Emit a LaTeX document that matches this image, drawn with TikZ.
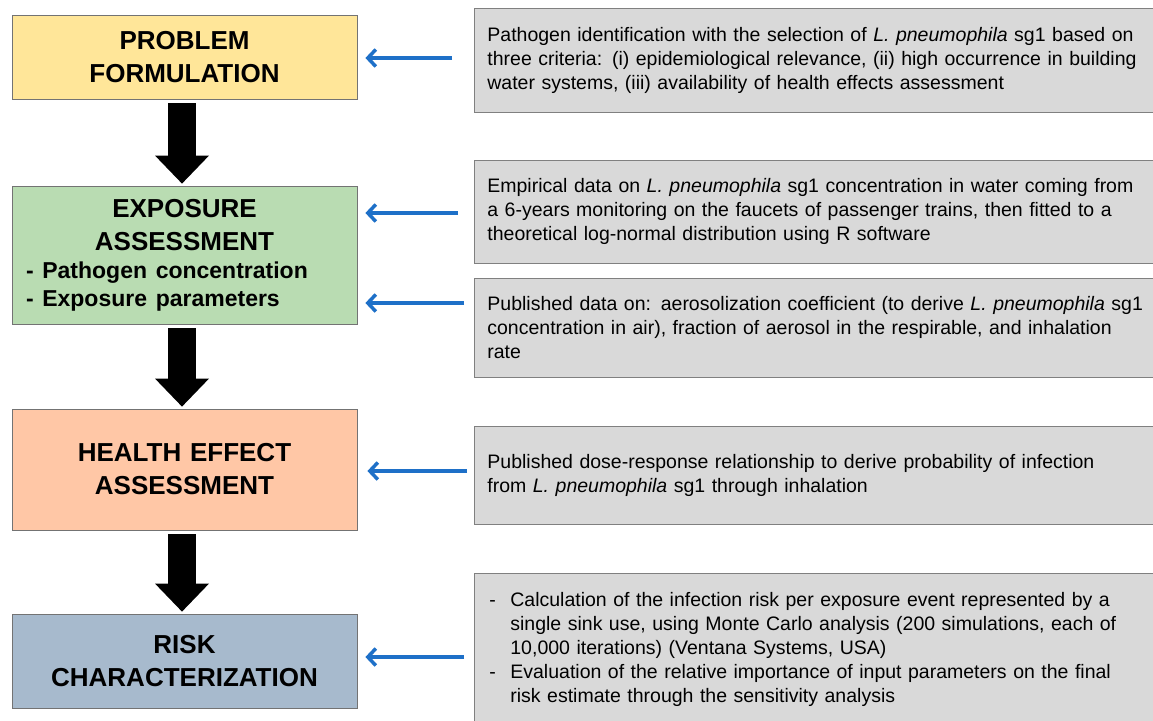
\documentclass[tikz,border=0pt]{standalone}
\usepackage{fontspec}
\setmainfont{Liberation Sans}
\usetikzlibrary{arrows.meta}

\definecolor{cYel}{HTML}{FFE699}
\definecolor{cGrn}{HTML}{B9DCB2}
\definecolor{cOrg}{HTML}{FFC7A6}
\definecolor{cBlg}{HTML}{A7BACD}
\definecolor{cGry}{HTML}{D9D9D9}
\definecolor{cBlu}{HTML}{1E70C8}

\newcommand{\jl}[1]{\makebox[\hsize][s]{#1}}
\newcommand{\Lp}{\textit{L. pneumophila}}
\newcommand{\bl}{\makebox[23pt][l]{\hspace*{2pt}-}}
\newcommand{\cl}{\hspace*{23pt}}

\tikzstyle{bS}=[draw=gray!90!black,line width=0.8pt,text width=331pt,inner xsep=7pt,inner ysep=0pt,align=center,font=\fontsize{26}{33}\selectfont\bfseries]
\tikzstyle{dS}=[draw=gray,line width=0.8pt,fill=cGry,anchor=west,text width=663pt,inner xsep=13pt,inner ysep=0pt,align=left,font=\fontsize{19.5}{24}\selectfont]
\tikzstyle{fS}=[line width=28pt,-{Triangle[length=28pt,width=54pt,line width=0pt]},shorten <=4pt,shorten >=2pt]
\tikzstyle{aS}=[line width=3.5pt,draw=cBlu,-{Straight Barb[length=8pt,width=17pt]},shorten >=8pt]

\begin{document}
\begin{tikzpicture}[x=1pt,y=-1pt]
    \useasboundingbox (0,0) rectangle (1153,720);

    \draw (184.5,57) node[bS,fill=cYel,minimum height=84pt] (pf) {PROBLEM\\FORMULATION};
    \draw (184.5,255) node[bS,fill=cGrn,minimum height=138pt,align=left] (ea) {\makebox[\hsize]{EXPOSURE}\\\makebox[\hsize]{ASSESSMENT}\par
        {\fontsize{23}{28}\selectfont\hspace*{7pt}- Pathogen concentration\\\hspace*{7pt}- Exposure parameters\par}};
    \draw (184.5,469.5) node[bS,fill=cOrg,minimum height=121pt] (hea) {HEALTH EFFECT\\ASSESSMENT};
    \draw (184.5,661) node[bS,fill=cBlg,minimum height=94pt] (rc) {RISK\\CHARACTERIZATION};

    \draw (474,60) node[dS,minimum height=104pt] (d1) {\jl{Pathogen identification with the selection of \Lp{} sg1 based on}\\
        \jl{three criteria: (i) epidemiological relevance, (ii) high occurrence in building}\\
        water systems, (iii) availability of health effects assessment};
    \draw (474,211.5) node[dS,minimum height=103pt] (d2) {\jl{Empirical data on \Lp{} sg1 concentration in water coming from}\\
        \jl{a 6-years monitoring on the faucets of passenger trains, then fitted to a}\\
        theoretical log-normal distribution using R software};
    \draw (474,327.5) node[dS,minimum height=99pt] (d3) {\jl{Published data on: aerosolization coefficient (to derive \Lp{} sg1}\\
        \jl{concentration in air), fraction of aerosol in the respirable, and inhalation}\\
        rate};
    \draw (474,475) node[dS,minimum height=98pt] (d4) {Published dose-response relationship to derive probability of infection\\
        from \Lp{} sg1 through inhalation};
    \draw (474,649) node[dS,minimum height=152pt] (d5) {\bl Calculation of the infection risk per exposure event represented by a\\
        \cl single sink use, using Monte Carlo analysis (200 simulations, each of\\
        \cl 10,000 iterations) (Ventana Systems, USA)\\
        \bl Evaluation of the relative importance of input parameters on the final\\
        \cl risk estimate through the sensitivity analysis};

    \path
        ([xshift=-2.5pt]pf.south) edge[fS] ([xshift=-2.5pt]ea.north)
        ([xshift=-2.5pt]ea.south) edge[fS] ([xshift=-2.5pt]hea.north)
        ([xshift=-2.5pt]hea.south) edge[fS] ([xshift=-2.5pt]rc.north)
    ;
    \path
        ([yshift=2pt]d1.west) edge[aS,shorten <=22pt] ([yshift=2pt]d1.west -| pf.east)
        ([yshift=-1.5pt]d2.west) edge[aS,shorten <=16pt] ([yshift=-1.5pt]d2.west -| ea.east)
        ([yshift=24.5pt]d3.west) edge[aS,shorten <=10pt] ([yshift=24.5pt]d3.west -| ea.east)
        ([yshift=4pt]d4.west) edge[aS,shorten <=7pt,shorten >=10pt] ([yshift=4pt]d4.west -| hea.east)
        ([yshift=-8pt]d5.west) edge[aS,shorten <=10pt] ([yshift=-8pt]d5.west -| rc.east)
    ;
\end{tikzpicture}
\end{document}
